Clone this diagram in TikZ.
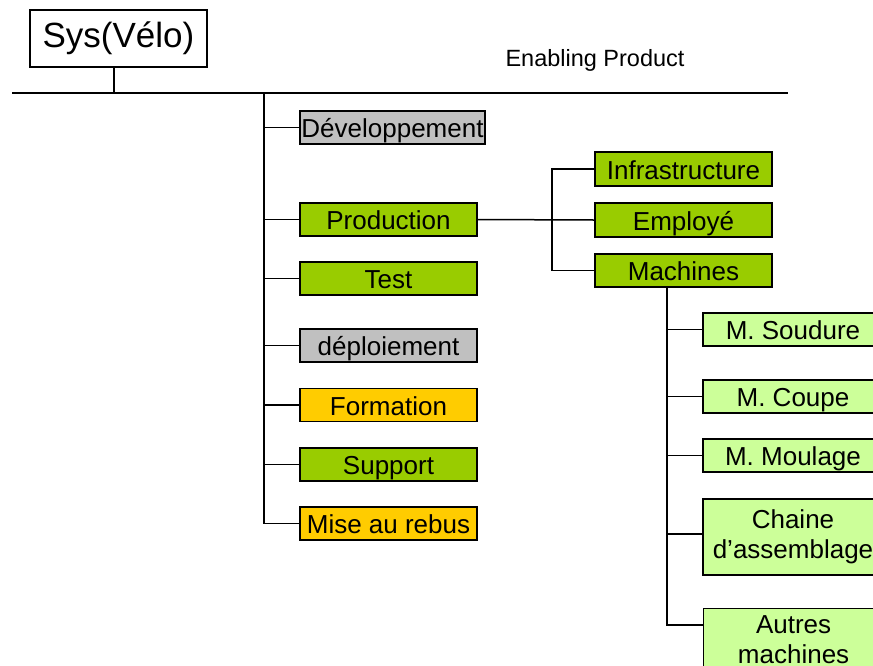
\documentclass[tikz,border=0pt]{standalone}
\usepackage{fontspec}
\setmainfont{Liberation Sans}
\usetikzlibrary{calc, positioning}

\definecolor{prodgreen}{HTML}{99CC00}
\definecolor{palegreen}{HTML}{CCFF99}
\definecolor{greybox}{HTML}{C0C0C0}
\definecolor{orangebox}{HTML}{FFCC00}

\tikzset{
  box/.style={draw, line width=1.2pt, inner sep=0pt, minimum width=177, minimum height=33,
    text height=20, text depth=0, font=\fontsize{26}{30}\selectfont},
  grn/.style={box, fill=prodgreen},
  gry/.style={box, fill=greybox},
  org/.style={box, fill=orangebox},
  mach/.style={box, fill=palegreen, minimum width=180},
  twoline/.style={text height=, text depth=, align=center},
  wire/.style={line width=1.5pt}
}

\begin{document}
\begin{tikzpicture}[x=1pt, y=-1pt]
  \clip (0,0) rectangle (873,665);
  \fill [white] (0,0) rectangle (873,665);
  % top
  \node [draw, line width=1.2pt, minimum width=177, minimum height=57, inner sep=0pt,
    font=\fontsize{35}{38}\selectfont] (sys) at (118.5,38.5) {Sys(Vélo)};
  \node [font=\fontsize{23.5}{26}\selectfont] (enab) at (595,60) {Enabling Product};
  \coordinate (busL) at (12,93);
  \coordinate (busR) at (788,93);
  \coordinate (trunk) at (264,93);
  \draw [wire] (busL) -- (busR);
  \draw [wire] (sys.south -| 114,0) -- (114,93);
  % first level
  \node [gry, minimum width=185] (dev) at (392.5,127.5) {Développement};
  \node [grn] (prod) at (388.5,219.5) {Production};
  \node [grn] (test) at (388.5,278.5) {Test};
  \node [gry] (depl) at (388.5,345.5) {déploiement};
  \node [org] (form) at (388.5,405) {Formation};
  \node [grn] (supp) at (388.5,464.5) {Support};
  \node [org] (rebus) at (388.5,523.5) {Mise au rebus};
  \draw [wire] (trunk) |- (rebus.west);
  \foreach \n in {dev, prod, test, depl, form, supp}
    \draw [wire] (trunk |- \n.west) -- (\n.west);
  % production
  \node [grn, minimum height=34] (infra) at (683.5,169) {Infrastructure};
  \node [grn, minimum height=34] (empl) at (683.5,220) {Employé};
  \node [grn] (machines) at (683.5,270.5) {Machines};
  \coordinate (pbus) at (552,169);
  \draw [wire] (prod.east) -- (empl.west);
  \draw [wire] (infra.west) -- (pbus) |- (machines.west);
  % machines
  \node [mach] (soud) at (793,329.5) {M. Soudure};
  \node [mach] (coupe) at (793,396.5) {M. Coupe};
  \node [mach] (moul) at (793,455.5) {M. Moulage};
  \node [mach, twoline, minimum height=76] (chaine) at (793,537) {Chaine\\d’assemblage};
  \node [mach, twoline, minimum height=62, anchor=north west] (autres) at (703,608) {Autres\\machines};
  \coordinate (mbus) at (machines.south -| 667,0);
  \coordinate (aut) at ($(autres.north west)+(0,17)$);
  \draw [wire] (mbus) |- (aut);
  \foreach \n in {soud, coupe, moul}
    \draw [wire] (mbus |- \n.west) -- (\n.west);
  \draw [wire] (mbus |- 0,534) -- (chaine.west |- 0,534);
\end{tikzpicture}
\end{document}
